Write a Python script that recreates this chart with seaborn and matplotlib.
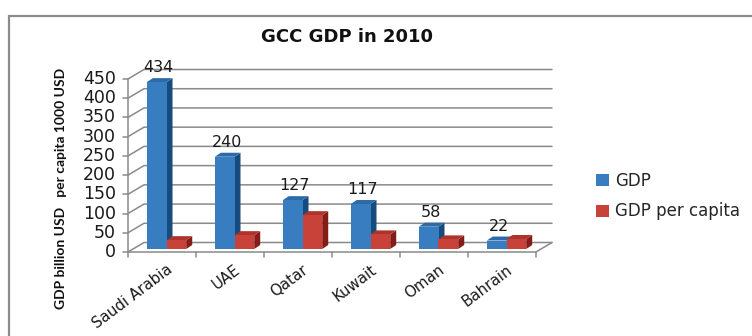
import numpy as np
import pandas as pd
import matplotlib
matplotlib.use("Agg")
import matplotlib.pyplot as plt
import seaborn as sns
from matplotlib.patches import Polygon, Rectangle
from matplotlib.lines import Line2D
from matplotlib.transforms import IdentityTransform, ScaledTranslation

# ---- data -------------------------------------------------------------
countries = ["Saudi Arabia", "UAE", "Qatar", "Kuwait", "Oman", "Bahrain"]
gdp = [434, 240, 127, 117, 58, 22]
gdp_per_capita = [23, 36, 88, 38, 25, 26]
series_names = ["GDP", "GDP per capita"]
y_ticks = [0, 50, 100, 150, 200, 250, 300, 350, 400, 450]
title_text = "GCC GDP in 2010"
y_label = "GDP billion USD   per capita 1000 USD"

df = pd.DataFrame({
    "country": countries + countries,
    "series": [series_names[0]] * len(countries) + [series_names[1]] * len(countries),
    "value": gdp + gdp_per_capita,
})

# ---- style ------------------------------------------------------------
sns.set_theme(style="white")
plt.rcParams["font.family"] = ["DejaVu Sans"]

W, H = 752, 336
DPI = 100
front_col = {"GDP": "#387dc0", "GDP per capita": "#c8423a"}
side_col = {"GDP": "#174b7d", "GDP per capita": "#861c17"}
top_col = {"GDP": "#2d6aa8", "GDP per capita": "#ad332b"}
grid_col = "#8a8a8a"

fig = plt.figure(figsize=(W / DPI, H / DPI), dpi=DPI)
fig.patch.set_facecolor("white")

# outer chart frame (runs off the right/bottom edges)
fig.add_artist(Rectangle((9 / W, -0.2), 1.2, (H - 16) / H + 0.2,
                         transform=fig.transFigure, fill=False,
                         edgecolor="#8c8c8c", linewidth=1.6))

# axes = front plane of the 3-D box
ax = fig.add_axes([128 / W, 84 / H, 408 / W, 173 / H])
ax.set_facecolor("none")

sns.barplot(data=df, x="country", y="value", hue="series",
            palette=[front_col[s] for s in series_names], width=0.58,
            saturation=1, edgecolor="none", linewidth=0, legend=False,
            ax=ax)

ax.set_xlim(-0.5, 5.5)
ax.set_ylim(0, 450)
for s in ax.spines.values():
    s.set_visible(False)
ax.set_xlabel("")
ax.set_ylabel("")
ax.set_yticks([])
ax.set_xticks([])

T = ax.transData
ID = IdentityTransform()

# depth of the box and of the bars, in pixels
box_dx, box_dy = 16, 9.5
bar_ox, bar_oy = 4.5, 3.0
bar_dx, bar_dy = 6, 4

def px(x, y):
    return T.transform((x, y))

# back wall gridlines with diagonals to the front axis
x_left, _ = px(-0.5, 0)
x_right, _ = px(5.5, 0)
for v in y_ticks:
    _, yy = px(-0.5, v)
    ax.add_line(Line2D([x_left, x_left + box_dx, x_right + box_dx],
                       [yy, yy + box_dy, yy + box_dy],
                       transform=ID, color=grid_col, lw=1.1, zorder=0.5,
                       clip_on=False))
    # tick marks on the front axis
    ax.add_line(Line2D([x_left - 5, x_left], [yy, yy], transform=ID,
                       color=grid_col, lw=1.1, clip_on=False))
    ax.text(x_left - 12, yy, f"{v}", transform=ID, ha="right", va="center",
            fontsize=12.5, color="#1a1a1a")

# floor: front edge and right diagonal, front vertical axis
_, y0 = px(0, 0)
_, ytop = px(0, 450)
ax.add_line(Line2D([x_left, x_right, x_right + box_dx],
                   [y0, y0, y0 + box_dy], transform=ID, color=grid_col,
                   lw=1.1, zorder=0.6, clip_on=False))
ax.add_line(Line2D([x_left, x_left], [y0, ytop], transform=ID,
                   color=grid_col, lw=1.1, zorder=0.6, clip_on=False))
for b in np.arange(-0.5, 6.0, 1.0):
    bx, _ = px(b, 0)
    ax.add_line(Line2D([bx, bx], [y0, y0 - 5], transform=ID,
                       color=grid_col, lw=1.1, clip_on=False))

# category labels
for i, c in enumerate(countries):
    cx, _ = px(i, 0)
    ax.text(cx + 4, y0 - 10, c, transform=ID, rotation=37,
            rotation_mode="anchor", ha="right", va="top", fontsize=10.8,
            color="#1a1a1a")

# 3-D faces of every bar
n = len(countries)
shift = ScaledTranslation(bar_ox / DPI, bar_oy / DPI, fig.dpi_scale_trans)
for k, p in enumerate(list(ax.patches)):
    series = series_names[k // n]
    zbase = 2 + 2 * (k // n)
    x, w, h = p.get_x(), p.get_width(), p.get_height()
    (ax0, ay0) = px(x, 0)
    (ax1, ay1) = px(x + w, h)
    ax0 += bar_ox; ax1 += bar_ox; ay0 += bar_oy; ay1 += bar_oy
    p.set_transform(T + shift)
    p.set_zorder(zbase + 1)
    side = Polygon([(ax1, ay0), (ax1 + bar_dx, ay0 + bar_dy),
                    (ax1 + bar_dx, ay1 + bar_dy), (ax1, ay1)],
                   closed=True, transform=ID, facecolor=side_col[series],
                   edgecolor="none", zorder=zbase, clip_on=False)
    top = Polygon([(ax0, ay1), (ax1, ay1), (ax1 + bar_dx, ay1 + bar_dy),
                   (ax0 + bar_dx, ay1 + bar_dy)],
                  closed=True, transform=ID, facecolor=top_col[series],
                  edgecolor="none", zorder=zbase, clip_on=False)
    ax.add_patch(side)
    ax.add_patch(top)
    if series == "GDP":
        ax.text((ax0 + ax1) / 2 + 2, ay1 + bar_dy + 3, f"{h:g}",
                transform=ID, ha="center", va="bottom", fontsize=11.5,
                color="#1a1a1a")

ax.set_xlim(-0.5, 5.5)
ax.set_ylim(0, 450)

# title and axis title
fig.text(347 / W, 1 - 37 / H, title_text, ha="center", va="center",
         fontsize=13, fontweight="bold", color="#111111")
fig.text(61 / W, 1 - 188 / H, y_label, rotation=90, ha="center",
         va="center", fontsize=10, fontweight="bold", color="#111111",
         family=["Liberation Sans Narrow", "Lato", "DejaVu Sans"])

# legend
handles = [Rectangle((0, 0), 1, 1, facecolor=front_col[s], edgecolor="none")
           for s in series_names]
fig.legend(handles, series_names, loc="upper left",
           bbox_to_anchor=(596 / W, 1 - 172 / H), frameon=False,
           handlelength=0.75, handleheight=0.75, handletextpad=0.4,
           labelspacing=0.75, fontsize=12, borderaxespad=0, borderpad=0)

fig.savefig("out.png", dpi=DPI, facecolor="white")
